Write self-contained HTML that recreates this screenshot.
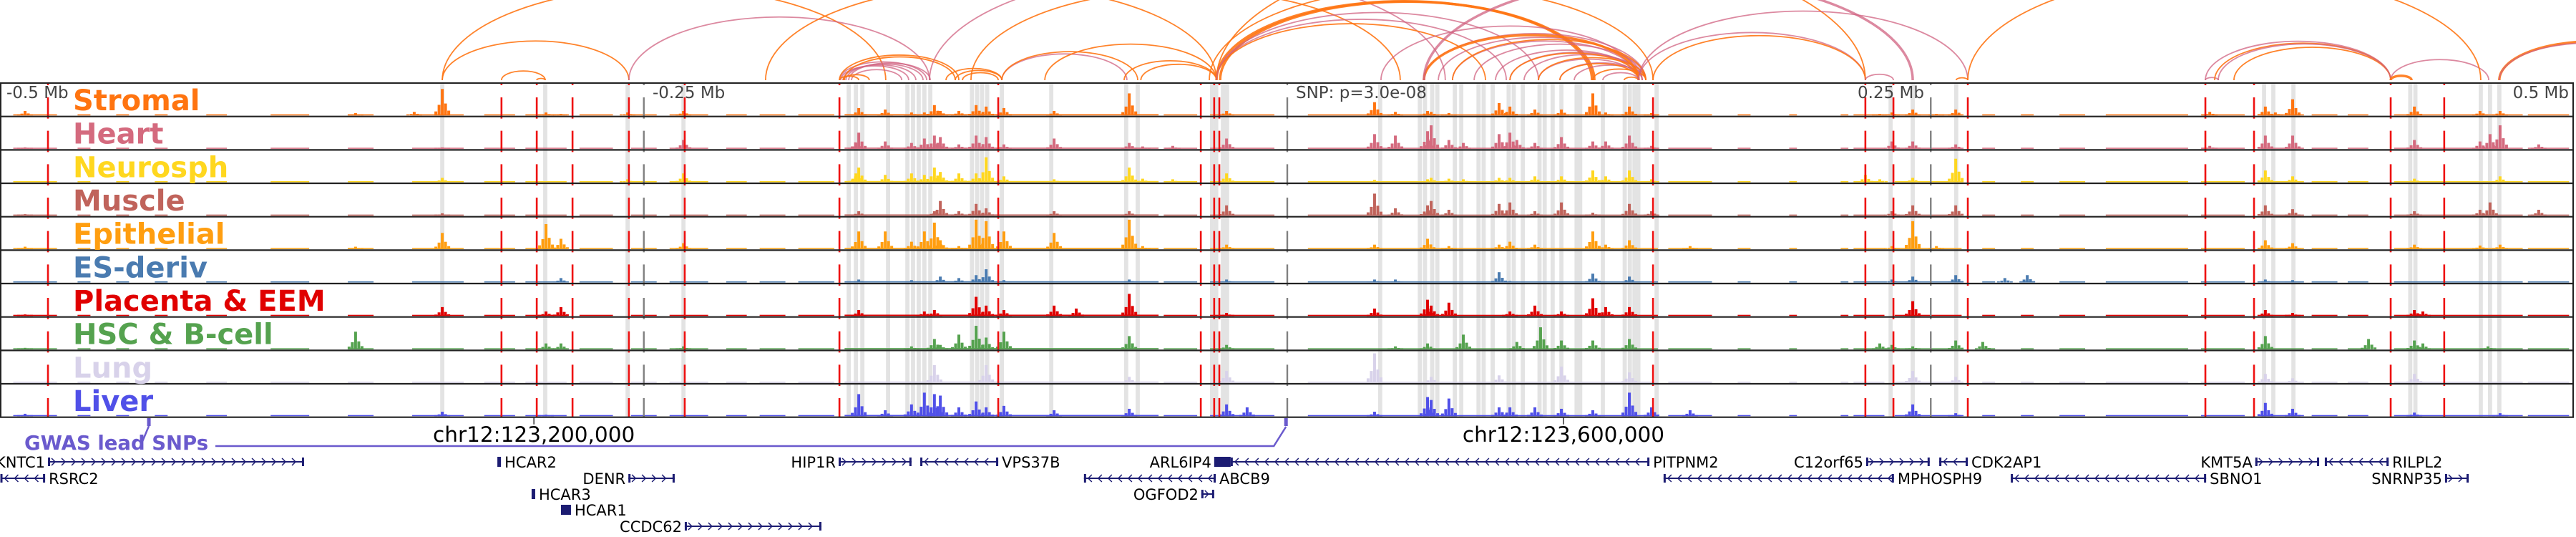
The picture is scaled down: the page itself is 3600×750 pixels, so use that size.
<!DOCTYPE html>
<html><head><meta charset="utf-8">
<style>
html,body{margin:0;padding:0;background:#fff;}
svg{display:block;}
text{font-family:"DejaVu Sans","Liberation Sans",sans-serif;}
</style></head>
<body>
<svg id="chart" xmlns="http://www.w3.org/2000/svg" width="3600" height="750" viewBox="0 0 3600 750">
  <rect x="0" y="0" width="3600" height="750" fill="#fff"/>
  <g id="arcs"></g>
  <g id="bands"></g>
  <g id="signals"></g>
  <g id="vlines"></g>
  <g id="frame"></g>
  <g id="labels"></g>
  <g id="genes"></g>
  <g id="misc"></g>
</svg>
<script>
// ---------- data (positions in kb relative to lead SNP) ----------
const trackNames = ["Stromal","Heart","Neurosph","Muscle","Epithelial","ES-deriv","Placenta & EEM","HSC & B-cell","Lung","Liver"];
const trackColors = ["#ff7410","#d46a7e","#ffd71f","#c0635b","#ff9e10","#4a7bb0","#e00000","#55a24f","#d8d2ea","#5050e8"];

const stromalPeaks = [[-490.4,.15],[-362,.08],[-339.2,.12],[-328.3,.9],[-288,.1],[-282.2,.05],[-256.3,.1],[-234.6,.15],[-166.5,.25],[-156.2,.2],[-146,.1],[-141,.1],[-137.1,.35],[-134.8,.15],[-127.6,.15],[-120.9,.35],[-117,.3],[-110.1,.25],[-90.6,.15],[-61.4,.75],[-23.6,.15],[33.9,.45],[42,.12],[54.5,.15],[55.9,.12],[62.8,.08],[82.3,.42],[86.5,.3],[96.2,.2],[106.5,.2],[118.7,.75],[123.7,.1],[132.9,.3],[141.5,.08],[230.2,.05],[234.9,.1],[243,.2],[252.2,.05],[259.7,.2],[358.4,.12],[380,.3],[383.9,.1],[390.6,.55],[437.9,.3],[463.4,.15],[471.2,.15]];
const heartPeaks = [[-490.4,.05],[-328.3,.05],[-234.6,.3],[-167.6,.2],[-166.5,.55],[-156.2,.25],[-146,.2],[-141,.35],[-137.1,.45],[-134.8,.4],[-127.6,.15],[-120.9,.45],[-117,.4],[-110.1,.15],[-90.6,.35],[-61.4,.2],[-56.2,.08],[-44.5,.1],[-23.6,.35],[33.9,.5],[42,.45],[54.5,.6],[55.9,.8],[62.8,.3],[68.4,.2],[82.3,.5],[86.5,.55],[89.2,.3],[96.2,.2],[106.5,.4],[118.7,.25],[123.7,.25],[132.9,.45],[141.5,.1],[234.9,.25],[243,.25],[259.7,.15],[358.4,.1],[380,.45],[390.6,.45],[437.9,.3],[463.4,.25],[467.3,.5],[471.2,.8],[486.2,.15]];
const neuroPeaks = [[-328.3,.15],[-256.3,.1],[-234.6,.3],[-167.6,.3],[-166.5,.5],[-156.2,.25],[-146,.3],[-141,.25],[-137.1,.5],[-134.8,.35],[-127.6,.3],[-120.9,.3],[-117,.85],[-110.1,.2],[-90.6,.1],[-61.4,.5],[-56.2,.12],[-44.5,.1],[-23.6,.3],[33.9,.08],[54.5,.1],[55.9,.15],[62.8,.12],[68.4,.1],[82.3,.15],[86.5,.15],[96.2,.2],[106.5,.2],[118.7,.4],[123.7,.2],[132.9,.4],[141.5,.1],[224.6,.25],[230.2,.1],[243,.15],[259.7,.8],[380,.4],[390.6,.2],[437.9,.12],[471.2,.2]];
const musclePeaks = [[-490.4,.05],[-328.3,.08],[-166.5,.15],[-137.1,.15],[-134.8,.5],[-127.6,.15],[-120.9,.4],[-117,.25],[-90.6,.15],[-61.4,.15],[-23.6,.35],[33.9,.75],[42,.25],[54.5,.35],[55.9,.5],[62.8,.2],[82.3,.4],[86.5,.45],[96.2,.15],[106.5,.45],[118.7,.1],[132.9,.4],[141.5,.15],[234.9,.15],[243,.35],[259.7,.35],[380,.35],[390.6,.22],[437.9,.15],[463.4,.2],[467.3,.45],[486.2,.2]];
const epithPeaks = [[-490.4,.08],[-362,.08],[-328.3,.55],[-288,.85],[-282.2,.35],[-234.6,.2],[-166.5,.6],[-156.2,.6],[-146,.25],[-141,.6],[-137.1,.9],[-134.8,.3],[-127.6,.1],[-120.9,1],[-117,.95],[-110.1,.6],[-90.6,.55],[-61.4,1],[-56.2,.1],[-23.6,.15],[33.9,.15],[54.5,.35],[62.8,.1],[82.3,.15],[86.5,.25],[96.2,.15],[118.7,.6],[123.7,.15],[132.9,.3],[156.5,.1],[234.9,.1],[243,.95],[252.2,.1],[380,.3],[390.6,.2],[437.9,.15],[463.4,.12],[471.2,.15]];
const esPeaks = [[-490.4,.03],[-282.2,.15],[-166.5,.1],[-146,.08],[-134.8,.2],[-127.6,.15],[-120.9,.25],[-117,.45],[-110.1,.08],[-61.4,.1],[-23.6,.1],[33.9,.1],[42,.1],[82.3,.35],[86.5,.05],[118.7,.3],[132.9,.2],[234.9,.1],[243,.2],[259.7,.25],[278.8,.15],[287.5,.25],[380,.1],[390.6,.08]];
const placentaPeaks = [[-490.4,.05],[-328.3,.3],[-288,.15],[-282.2,.3],[-166.5,.2],[-141,.15],[-137.1,.2],[-120.9,.65],[-117,.35],[-110.1,.2],[-90.6,.35],[-82,.25],[-61.4,.75],[-23.6,.1],[33.9,.25],[54.5,.55],[55.9,.35],[62.8,.45],[86.5,.15],[96.2,.35],[106.5,.15],[118.7,.6],[123.7,.3],[132.9,.3],[243,.5],[380,.2],[390.6,.1],[437.9,.2],[441.2,.15]];
const hscPeaks = [[-490.4,.05],[-362,.6],[-288,.2],[-282.2,.2],[-234.6,.1],[-146,.1],[-137.1,.35],[-134.8,.15],[-127.6,.5],[-120.9,.8],[-117,.4],[-110.1,.6],[-61.4,.45],[-23.6,.15],[42,.1],[54.5,.2],[68.4,.5],[89.2,.25],[98.4,.75],[106.5,.3],[118.7,.3],[132.9,.35],[230.2,.2],[234.9,.15],[243,.1],[259.7,.3],[270.2,.25],[380,.45],[420.1,.35],[437.9,.3],[441.2,.2],[466.5,.1]];
const lungPeaks = [[-137.1,.6],[-117,.6],[-61.4,.2],[-23.6,.4],[33.9,1],[55.9,.2],[82.3,.25],[106.5,.55],[132.9,.35],[243,.4],[259.7,.2],[380,.3],[390.6,.15],[437.9,.3]];
const liverPeaks = [[-490.4,.08],[-328.3,.15],[-288,.05],[-166.5,.75],[-156.2,.2],[-146,.4],[-141,.8],[-137.1,.75],[-134.8,.7],[-127.6,.3],[-120.9,.5],[-117,.3],[-110.1,.35],[-90.6,.2],[-61.4,.25],[-23.6,.4],[-15.6,.3],[33.9,.15],[54.5,.65],[55.9,.55],[62.8,.6],[82.3,.3],[86.5,.3],[96.2,.3],[106.5,.25],[118.7,.2],[132.9,.8],[141.5,.3],[156.5,.2],[243,.4],[259.7,.1],[380,.45],[390.6,.25],[437.9,.12],[471.2,.1]];
const trackPeaks = [stromalPeaks,heartPeaks,neuroPeaks,musclePeaks,epithPeaks,esPeaks,placentaPeaks,hscPeaks,lungPeaks,liverPeaks];

const floorSegs = [[-495,-478],[-470,-465],[-455,-450],[-440,-435],[-420,-412],[-395,-380],[-365,-355],[-340,-320],[-312,-300],[-296,-280],[-275,-262],[-255,-245],[-240,-225],[-218,-210],[-205,-195],[-190,-176],[-172,-50],[-48,-35],[-30,-5],[8,144],[148,165],[175,180],[195,198],[215,218],[220,232],[236,262],[270,275],[285,290],[300,310],[318,350],[355,372],[378,395],[398,408],[412,420],[430,480],[482,498]];
const floorVals = [.05,.03,.03,.03,.04,.03,.03,.04,.03,.04,.04,.03,.04,.03,.03,.04,.06,.04,.04,.05,.04,.03,.03,.03,.03,.04,.03,.03,.03,.04,.04,.04,.04,.03,.04,.04];

const greyBands = [-328.3,-288.3,-256.3,-234.6,-170.4,-167.6,-165.1,-155.1,-147.6,-145.4,-143.2,-141,-138.7,-122.5,-120.5,-118.6,-116.6,-110.9,-91.7,-62.6,-58.1,-29.2,-27.6,-25,-23.4,36.1,51.5,53.5,56.3,58.3,65.1,67.6,74.3,76.3,79.8,86,88,91.5,98,100,103.1,106.5,112.4,113.8,122.6,131.1,133.1,134.9,136.4,143.5,234.4,243,259.9,379.5,383.1,390.9,436.3,438.3,463.7,467.3,470.9];
const redLines = [-481.5,-305.3,-291.6,-277.7,-255.8,-234.1,-174.0,-112.3,-33.6,-28.4,-26.4,142.1,224.6,235.5,264.4,356.7,375.6,428.7,449.5];
const greyLines = [-250,0,250];

const arcStarts = [-328.3,-328.3,-305.3,-291.6,-255.8,-173.5,-172.6,-171.5,-170.4,-174.0,-169.3,-174.0,-172.1,-174.0,-172.6,-139.0,-122.9,-132.6,-129.0,-126.2,-110.9,-110.9,-63.4,-56.9,-94.2,-202.7,-27.5,-26.1,-27.5,-27.5,-27.5,-27.5,36.4,53.1,58.7,64.2,72.6,80.9,86.5,92.0,97.6,105.9,111.5,53.1,64.2,86.5,97.6,105.9,118.7,130.9,122.6,-30.3,136.5,136.5,142.1,53.1,224.6,259.9,356.7,356.7,360.3,367.8,361.7,428.7,428.7,264.4,470.9,470.9];
const arcEnds   = [-156.0,-255.8,-288.3,-288.3,-139.0,-147.1,-144.3,-141.5,-138.7,-140.1,-149.8,-127.6,-129.0,-166.5,-162.4,61.4,43.9,-110.9,-110.9,-112.3,-62.3,-58.1,-27.5,-27.5,-27.5,-27.5,118.4,119.3,85.1,77.0,224.6,97.6,136.5,139.3,137.9,136.5,139.3,136.5,137.9,139.3,136.5,137.9,139.3,136.5,139.3,136.5,139.3,136.5,139.3,136.5,136.5,142.1,264.4,224.6,224.6,243.0,235.5,264.4,361.7,428.7,428.7,428.7,428.7,466.8,436.8,463.7,542.4,539.6];
const arcKinds  = ["o","o","o","o","p","p","p","p","p","p","p","o","o","o","o","p","o","o","o","o","p","o","o","o","o","o","O","O","p","o","o","p","p","p","p","p","p","p","p","p","p","p","p","O","o","o","o","o","o","o","p","o","p","p","o","P","p","o","p","p","o","o","p","p","O","o","O","p"];

const geneNames  = ["KNTC1","RSRC2","HCAR2","DENR","HCAR3","HCAR1","CCDC62","HIP1R","VPS37B","ARL6IP4","PITPNM2","ABCB9","OGFOD2","C12orf65","CDK2AP1","MPHOSPH9","SBNO1","KMT5A","RILPL2","SNRNP35"];
const geneStarts = [-481.5,-500,-306.9,-256.0,-293.6,-282.2,-234.1,-174.3,-142.6,-28.4,-22.0,-79.0,-33.4,224.9,253.3,146.2,281.1,376.1,403.1,449.8];
const geneEnds   = [-382.0,-482.6,-305.5,-238.0,-292.2,-278.3,-181.0,-146.0,-112.3,-22.0,140.7,-27.8,-28.4,249.6,264.4,235.7,357.0,400.9,427.9,459.0];
const geneStrand = ["+","-","0","+","0","0","+","+","-","0","-","-","+","+","-","-","-","+","-","+"];
const geneRows   = [0,1,0,1,2,3,4,0,0,0,0,1,2,0,0,1,1,0,0,1];
const geneLabelLeft = [1,0,0,1,0,0,1,1,0,1,0,0,1,1,0,0,0,1,0,1];

const snpPositions = [-442.3,-0.5];
const chrTicks = [-292.7,107.3];
const chrTickLabels = ["chr12:123,200,000","chr12:123,600,000"];
const scaleLabels = ["-0.5 Mb","-0.25 Mb","SNP: p=3.0e-08","0.25 Mb","0.5 Mb"];

// ---------- scales ----------
const NS="http://www.w3.org/2000/svg";
const X0=1799, PXKB=3.597;
function xOf(kb){return X0+kb*PXKB;}
const TOP=116, TH=46.67, NT=10, BOT=TOP+TH*NT;
const MAXH=41;
function trackBase(i){return TOP+TH*(i+1)-1.5;}
function el(tag,attrs,parent){const e=document.createElementNS(NS,tag);for(const k in attrs)e.setAttribute(k,attrs[k]);parent.appendChild(e);return e;}

// arcs
const gA=document.getElementById('arcs');
const ARCY=112;
for(let i=0;i<arcStarts.length;i++){
  const x1=xOf(arcStarts[i]),x2=xOf(arcEnds[i]);
  const span=x2-x1, rx=span/2, ry=0.21*span;
  const k=arcKinds[i];
  const col=(k==="o"||k==="O")?"rgba(255,118,20,0.9)":"rgba(208,98,128,0.75)";
  const w=(k==="O"||k==="P")?3.5:1.8;
  const p=el('path',{d:`M${x1},${ARCY} A${rx},${ry} 0 0 1 ${x2},${ARCY}`,fill:'none',stroke:col,'stroke-width':w},gA);
  
  
}

// grey bands
const gB=document.getElementById('bands');
greyBands.forEach(kb=>{
  const r=el('rect',{x:xOf(kb)-2.9,y:TOP,width:5.8,height:BOT-TOP,fill:'#e3e3e3'},gB);
  
  
});

// signals
const gS=document.getElementById('signals');
for(let t=0;t<NT;t++){
  const g=el('g',{},gS);
  
  
  const base=trackBase(t), col=trackColors[t];
  floorSegs.forEach((s,j)=>{
    const h=Math.max(1.5,floorVals[j]*MAXH*0.7);
    const r=el('rect',{x:xOf(s[0]),y:base-h,width:xOf(s[1])-xOf(s[0]),height:h,fill:col},g);
    
    
  });
  trackPeaks[t].forEach(pk=>{
    const cx=xOf(pk[0]), h=pk[1]*MAXH;
    const parts=[[-9,0.15],[-4.5,0.4],[0,1],[4.5,0.45],[9,0.18]];
    parts.forEach(pp=>{
      const hh=Math.max(1.5,h*pp[1]);
      const r=el('rect',{x:cx+pp[0]-2,y:base-hh,width:4,height:hh,fill:col},g);
      
      
    });
  });
}

// vertical marker lines
const gV=document.getElementById('vlines');
function dashedLine(x,col,w,name){
  let d='M'+x+','+TOP+' V'+(TOP+3);
  for(let t=0;t<NT;t++){const a=TOP+TH*t+20, b=Math.min(BOT,TOP+TH*(t+1)+3);d+=` M${x},${a} V${b}`;}
  const p=el('path',{d:d,stroke:col,'stroke-width':w,fill:'none'},gV);
  
  
}
redLines.forEach(kb=>dashedLine(xOf(kb),'#ee1111',2.6,'enhancer-marker-line'));
greyLines.forEach(kb=>dashedLine(xOf(kb),'#808080',2.4,'scale-marker-line'));

// frame
const gF=document.getElementById('frame');
{
  const t=el('line',{x1:0,y1:TOP,x2:3597,y2:TOP,stroke:'#222','stroke-width':2},gF);
  
  
  for(let i=1;i<=NT;i++){
    const l=el('line',{x1:0,y1:TOP+TH*i,x2:3597,y2:TOP+TH*i,stroke:'#222','stroke-width':2.2},gF);
    
    
  }
  const lb=el('line',{x1:1,y1:TOP,x2:1,y2:BOT,stroke:'#222','stroke-width':2},gF);
  
  
  const rb=el('line',{x1:3596,y1:TOP,x2:3596,y2:BOT,stroke:'#222','stroke-width':2},gF);
  
  
}

// labels
const gL=document.getElementById('labels');
trackNames.forEach((n,i)=>{
  const tx=el('text',{x:102,y:TOP+TH*i+38,'font-size':40,'font-weight':'bold',fill:trackColors[i]},gL);
  tx.textContent=n;
  
  
});
{
  const pos=[[9,'start'],[912,'start'],[1811,'start'],[2689,'end'],[3590,'end']];
  scaleLabels.forEach((s,i)=>{
    const tx=el('text',{x:pos[i][0],y:137,'font-size':23,fill:'#444','text-anchor':pos[i][1]},gL);
    tx.textContent=s;
    
    
  });
}

// misc
const gM=document.getElementById('misc');
chrTicks.forEach((kb,i)=>{
  const x=xOf(kb);
  const l=el('line',{x1:x,y1:BOT,x2:x,y2:BOT+10,stroke:'#333','stroke-width':1.5},gM);
  
  
  const tx=el('text',{x:x,y:617,'font-size':29.5,fill:'#000','text-anchor':'middle'},gM);
  tx.textContent=chrTickLabels[i];
  
  
});
snpPositions.forEach(kb=>{
  const x=xOf(kb);
  const r=el('rect',{x:x-2.5,y:584,width:5,height:11,fill:'#6a5acd'},gM);
  
  
});
{
  const sx0=xOf(snpPositions[0]), sx1=xOf(snpPositions[1]);
  const p=el('path',{d:`M${sx0},595 L${sx0-13},626 M301,623 L${sx1-17},623 L${sx1},596`,stroke:'#6a5acd','stroke-width':2.5,fill:'none'},gM);
  
  
  const tx=el('text',{x:34,y:628,'font-size':27.5,'font-weight':'bold',fill:'#6a5acd'},gM);
  tx.textContent='GWAS lead SNPs';
  
  
}

// genes
const gG=document.getElementById('genes');
const rowY=[645,668,690,712,735];
const GC='#1c1c72';
geneNames.forEach((n,i)=>{
  const g=el('g',{},gG);
  
  
  const x1=Math.max(0,xOf(geneStarts[i])), x2=xOf(geneEnds[i]), y=rowY[geneRows[i]];
  const st=geneStrand[i];
  if(st==="0"){
    const w=Math.max(5,x2-x1);
    el('rect',{x:x1,y:y-7,width:w,height:14,fill:GC},g);
  } else {
    el('line',{x1:x1,y1:y,x2:x2,y2:y,stroke:GC,'stroke-width':2},g);
    el('rect',{x:x2-3,y:y-6,width:3,height:12,fill:GC},g);
    el('rect',{x:x1,y:y-6,width:3,height:12,fill:GC},g);
    let d='';
    for(let x=x1+8;x<x2-4;x+=14){
      if(st==="+") d+=`M${x-3},${y-5} L${x+2},${y} L${x-3},${y+5} `;
      else d+=`M${x+3},${y-5} L${x-2},${y} L${x+3},${y+5} `;
    }
    el('path',{d:d,stroke:GC,'stroke-width':1.5,fill:'none'},g);
  }
  const left=geneLabelLeft[i]===1;
  const tx=el('text',{x:left?x1-4:x2+5,y:y+8,'font-size':21,fill:'#000','text-anchor':left?'end':'start'},g);
  tx.textContent=n;
  
  
});
</script>
</body></html>
